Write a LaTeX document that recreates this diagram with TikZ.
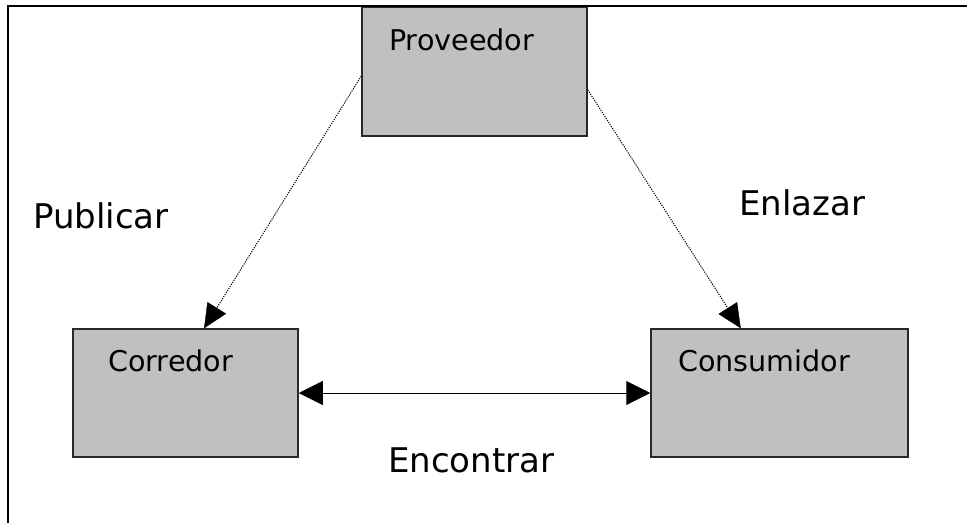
\documentclass[tikz,border=0pt]{standalone}
\usepackage{fontspec}
\setmainfont{DejaVu Sans}
\usetikzlibrary{arrows.meta,calc}
\definecolor{boxgray}{RGB}{192,192,192}
\definecolor{boxedge}{RGB}{40,40,40}
\begin{document}
\begin{tikzpicture}[x=1pt,y=-1pt,
  box/.style={draw=boxedge,fill=boxgray,line width=1.5pt,inner sep=0pt,rectangle},
  boxtext/.style={anchor=base west,inner sep=0pt,font=\fontsize{28.6}{32}\selectfont},
  labeltext/.style={anchor=base west,inner sep=0pt,font=\fontsize{34}{40}\selectfont},
  dotline/.style={line width=1pt,dash pattern=on 1.2pt off 1.2pt},
  headtip/.style={-{Triangle[length=24pt,width=22pt]}},
  solidline/.style={line width=1pt,{Triangle[length=24pt,width=24pt]}-{Triangle[length=24pt,width=24pt]}}
]
\useasboundingbox (0,0) rectangle (967,523);
\fill[white] (0,0) rectangle (967,523);
% boxes
\node[box,minimum width=225pt,minimum height=129pt] (prov) at (474.5,71.5) {};
\node[box,minimum width=225pt,minimum height=128pt] (corr) at (185.5,393) {};
\node[box,minimum width=257pt,minimum height=128pt] (cons) at (779.5,393) {};
% box texts
\node[boxtext] (tprov) at (389,50) {Proveedor};
\node[boxtext] (tcorr) at (108,371) {Corredor};
\node[boxtext] (tcons) at (678,371) {Consumidor};
% labels
\node[labeltext] (lpub) at (33,228) {Publicar};
\node[labeltext] (lenl) at (739,215) {Enlazar};
\node[labeltext] (lenc) at (388,472) {Encontrar};
% connector endpoints on box borders
\coordinate (pl) at ($(prov.north west)!0.535!(prov.south west)$);
\coordinate (pr) at ($(prov.north east)!0.64!(prov.south east)$);
\coordinate (ct) at ($(corr.north west)!0.582!(corr.north east)$);
\coordinate (st) at ($(cons.north west)!0.35!(cons.north east)$);
% connectors
\draw[dotline] (pl) -- (ct);
\draw[headtip] ($(pl)!0.92!(ct)$) -- (ct);
\draw[dotline] (pr) -- (st);
\draw[headtip] ($(pr)!0.92!(st)$) -- (st);
\draw[solidline] (corr.east) -- (cons.west);
% frame (top and left only)
\draw[line width=2.5pt] (8,523) -- (8,6) -- (967,6);
\end{tikzpicture}
\end{document}
